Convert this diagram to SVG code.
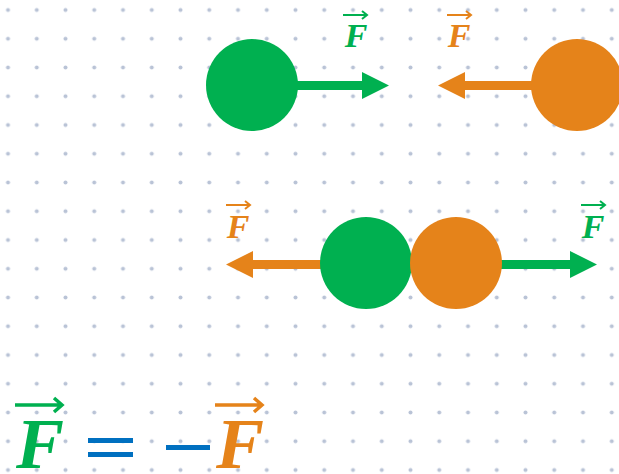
<svg xmlns="http://www.w3.org/2000/svg" width="619" height="474" viewBox="0 0 619 474">
<defs>
<pattern id="dots" x="-6.375" y="-4.375" width="28.75" height="28.75" patternUnits="userSpaceOnUse">
<circle cx="14.375" cy="14.375" r="2" fill="#b9c3d6"/>
</pattern>
<style>
.g{fill:#00b050}.o{fill:#e5831a}
.lbl{font-family:"Liberation Serif",serif;font-weight:bold;font-style:italic;text-anchor:middle}
.vg{stroke:#00b050;fill:none;stroke-width:2}
.vo{stroke:#e5831a;fill:none;stroke-width:2}
.vgb{stroke:#00b050;fill:none;stroke-width:3.5}
.vob{stroke:#e5831a;fill:none;stroke-width:3.5}
</style>
</defs>
<rect width="619" height="474" fill="#ffffff"/>
<rect width="619" height="474" fill="url(#dots)"/>
<g id="connectors">
<path class="g" d="M290 81 H362 V72 L389 85.5 L362 99 V90 H290 Z"/>
<path class="o" d="M540 81 H465 V72 L438 85.5 L465 99 V90 H540 Z"/>
<path class="o" d="M330 260 H253 V251 L226 264.5 L253 278 V269 H330 Z"/>
<path class="g" d="M495 260 H570 V251 L597 264.5 L570 278 V269 H495 Z"/>
</g>
<g id="ball-green-top"><circle class="g" cx="252" cy="85" r="46"/></g>
<g id="ball-orange-top"><circle class="o" cx="577" cy="85" r="46"/></g>
<g id="ball-green-mid"><circle class="g" cx="366" cy="263" r="46"/></g>
<g id="ball-orange-mid"><circle class="o" cx="456" cy="263" r="46"/></g>
<g id="label-f1">
<text class="lbl" x="356" y="47" font-size="34" fill="#00b050">F</text>
<path class="vg" d="M343 15 H367 M362 11 L367 15 L362 19"/>
</g>
<g id="label-f2">
<text class="lbl" x="459" y="47" font-size="34" fill="#e5831a">F</text>
<path class="vo" d="M447 15 H471 M466 11 L471 15 L466 19"/>
</g>
<g id="label-f3">
<text class="lbl" x="238" y="238" font-size="34" fill="#e5831a">F</text>
<path class="vo" d="M226 205 H250 M245 201 L250 205 L245 209"/>
</g>
<g id="label-f4">
<text class="lbl" x="593" y="238" font-size="34" fill="#00b050">F</text>
<path class="vg" d="M581 205 H605 M600 201 L605 205 L600 209"/>
</g>
<g id="equation">
<text class="lbl" x="40" y="468" font-size="72" fill="#00b050">F</text>
<path class="vgb" d="M15 405 H62 M54 398 L62 405 L54 412"/>
<rect x="88" y="438" width="45" height="5" fill="#0070c0"/>
<rect x="88" y="452" width="45" height="5" fill="#0070c0"/>
<rect x="166" y="445" width="44" height="5" fill="#0070c0"/>
<text class="lbl" x="240" y="468" font-size="72" fill="#e5831a">F</text>
<path class="vob" d="M215 405 H262 M254 398 L262 405 L254 412"/>
</g>
</svg>
